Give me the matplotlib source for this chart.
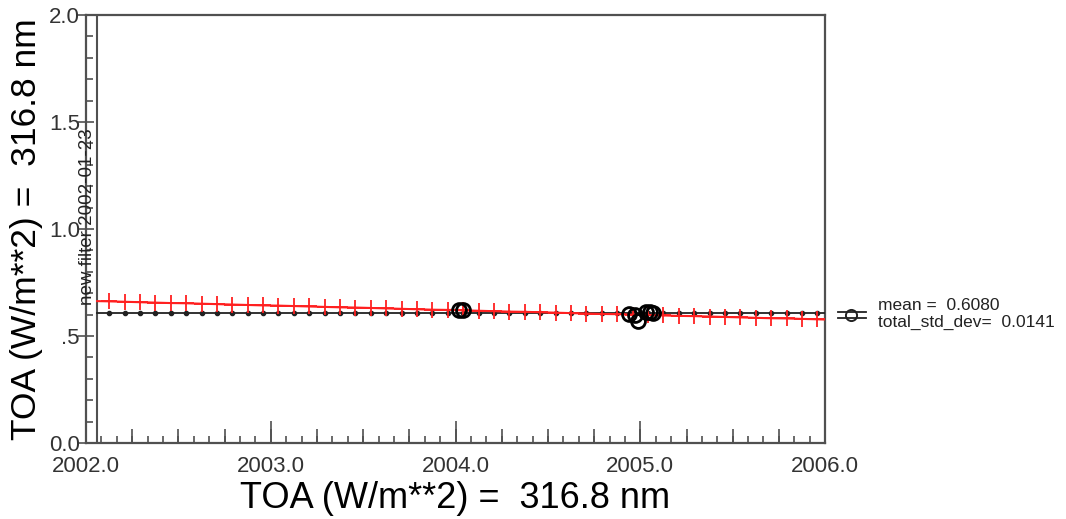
import matplotlib
matplotlib.use("Agg")
import matplotlib.pyplot as plt
from matplotlib.lines import Line2D

plt.rcParams['font.family'] = ['Liberation Sans', 'DejaVu Sans']

# monthly points, mid-month, Feb 2002 .. Dec 2005
months = [2002 + (m + 0.5) / 12 for m in range(1, 12)] + \
         [y + (m + 0.5) / 12 for y in (2003, 2004, 2005) for m in range(12)]

trend_vals = [0.662, 0.660, 0.658, 0.656, 0.654, 0.653, 0.651, 0.649, 0.647, 0.645,
              0.643, 0.642, 0.640, 0.638, 0.636, 0.634, 0.633, 0.631, 0.629, 0.627,
              0.625, 0.623, 0.622, 0.620, 0.618, 0.616, 0.614, 0.613, 0.611, 0.609,
              0.607, 0.605, 0.603, 0.602, 0.600, 0.598, 0.596, 0.594, 0.593, 0.591,
              0.589, 0.587, 0.585, 0.583, 0.582, 0.580, 0.578]

filter_date = 2002.06
x_end = 2006.0
trend_start, trend_end = 0.663, 0.577
mean_val = 0.6080
std_val = 0.0141

obs_x = [2004.02, 2004.04, 2004.94, 2004.97, 2004.99, 2005.03, 2005.05, 2005.07]
obs_y = [0.622, 0.620, 0.603, 0.598, 0.572, 0.610, 0.612, 0.608]

label = "TOA (W/m**2) =  316.8 nm"
frame = '#505050'

fig = plt.figure(figsize=(10.66, 5.19), dpi=100)
ax = fig.add_axes([0.0807, 0.1464, 0.6933, 0.8247])

# mean line with dots
ax.plot([filter_date] + months + [x_end], [mean_val] * (len(months) + 2),
        color='#222222', lw=1.3, marker='o', ms=3,
        markevery=list(range(1, len(months) + 1)), zorder=3)
# trend line with + markers
ax.plot([filter_date] + months + [x_end], [trend_start] + trend_vals + [trend_end],
        color='#ff2020', lw=1.5, marker='+', ms=12, mew=1.3,
        markevery=list(range(1, len(months) + 1)), zorder=4)
# observations
ax.plot(obs_x, obs_y, ls='none', marker='o', ms=10, mfc='none', mec='black', mew=2, zorder=5)

# filter marker
ax.axvline(filter_date, color=frame, lw=1.5)
ax.text(filter_date - 0.005, 0.645, "new filter 2002-01-23", rotation=90,
        ha='right', va='bottom', fontsize=13.5, color='#222222')

ax.set_xlim(2002.0, 2006.0)
ax.set_ylim(0, 2.0)

ax.set_xticks([2002, 2003, 2004, 2005, 2006])
ax.set_xticklabels(["2002.0", "2003.0", "2004.0", "2005.0", "2006.0"])
ax.set_xticks([2002 + k / 12 for k in range(49)], minor=True)
ax.set_yticks([0, 0.5, 1.0, 1.5, 2.0])
ax.set_yticklabels(["0.0", ".5", "1.0", "1.5", "2.0"])
ax.set_yticks([k / 10 for k in range(21)], minor=True)

ax.tick_params(axis='x', which='major', direction='in', length=16, width=1.2,
               color=frame, labelsize=16, pad=9, labelcolor='#333333', top=False)
ax.tick_params(axis='x', which='minor', direction='in', length=5, width=1.2,
               color=frame, top=False)
ax.tick_params(axis='y', which='major', direction='inout', length=11, width=1.2,
               color=frame, labelsize=16, pad=-1, labelcolor='#333333', right=False)
ax.tick_params(axis='y', which='minor', direction='in', length=5, width=1.2,
               color=frame, right=False)

sec = ax.secondary_xaxis('bottom')
sec.set_xticks([2002 + k / 4 for k in range(17)])
sec.tick_params(direction='in', length=10, width=1.2, color=frame, labelbottom=False)
sec.spines['bottom'].set_visible(False)

for s in ax.spines.values():
    s.set_color(frame)
    s.set_linewidth(1.6)

ax.set_xlabel(label, fontsize=26, labelpad=3)
ax.set_ylabel(label, fontsize=25.5, labelpad=4)

# legend-like annotation on the right
fig.add_artist(Line2D([838 / 1066, 866 / 1066], [1 - 312 / 519, 1 - 312 / 519], color='#222222', lw=1.3))
fig.add_artist(Line2D([838 / 1066, 866 / 1066], [1 - 318 / 519, 1 - 318 / 519], color='#222222', lw=1.3))
fig.add_artist(Line2D([851 / 1066], [1 - 315 / 519], marker='o', ms=8, mfc='none', mec='#222222', mew=1.4))
fig.text(878 / 1066, 1 - 306 / 519, "mean =  %.4f" % mean_val, fontsize=12.5, va='center', color='#222222')
fig.text(878 / 1066, 1 - 322 / 519, "total_std_dev=  %.4f" % std_val, fontsize=12.5, va='center', color='#222222')

fig.savefig("out.png", dpi=100)
